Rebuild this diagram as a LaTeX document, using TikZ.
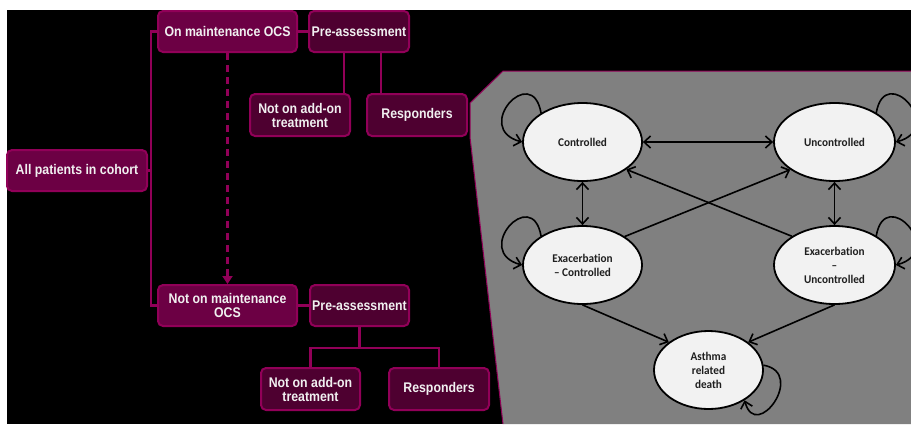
\documentclass[tikz,border=0pt]{standalone}
\usepackage{fontspec}
\newfontfamily\boxfont[FakeStretch=0.88]{Liberation Sans}
\newfontfamily\ellfont[FakeStretch=0.95,Ligatures=NoCommon]{Carlito}
\usetikzlibrary{arrows.meta,shapes.geometric}
\definecolor{boxA}{RGB}{108,0,68}
\definecolor{boxB}{RGB}{78,0,48}
\definecolor{boxline}{RGB}{145,0,88}
\definecolor{panel}{RGB}{128,128,128}
\definecolor{ellfill}{RGB}{242,242,242}
\begin{document}
\begin{tikzpicture}[x=1pt,y=1pt,
  pbox/.style={draw=boxline, line width=2pt, rounded corners=5pt, fill=boxA,
    text=white!94!black, font=\boxfont\bfseries\fontsize{14}{14}\selectfont,
    align=center, inner sep=0pt},
  dbox/.style={pbox, fill=boxB},
  link/.style={draw=boxline, line width=2.2pt},
  state/.style={ellipse, draw=black, line width=1.8pt, fill=ellfill,
    text=black!88, font=\ellfont\bfseries\fontsize{11.8}{14}\selectfont,
    align=center, inner sep=0pt},
  arr/.style={line width=1.6pt, -{Straight Barb[length=6.5pt,width=12pt]}},
  darr/.style={line width=1.6pt, {Straight Barb[length=6.5pt,width=12pt]}-{Straight Barb[length=6.5pt,width=12pt]}}
]
\useasboundingbox (0,0) rectangle (911,-424);
\clip (0,0) rectangle (911,-424);
\fill[white] (0,0) rectangle (911,-424);
\fill[black] (7,-10) rectangle (911,-424);

% grey panel
\fill[panel] (911,-71) -- (503,-71) -- (470,-103) -- (470,-137) -- (503,-424) -- (911,-424) -- cycle;
\draw[boxline, line width=1pt] (911,-71) -- (503,-71) -- (470,-103) -- (470,-137) -- (503,-424);

% left flowchart
\node[pbox, minimum width=140, minimum height=41] (allp) at (77,-170.5) {All patients in cohort};
\node[pbox, minimum width=139, minimum height=41] (onm) at (227.5,-31.5) {On maintenance OCS};
\node[dbox, minimum width=100, minimum height=41] (pre1) at (359,-31.5) {Pre-assessment};
\node[dbox, minimum width=100, minimum height=42] (nota1) at (300,-115) {Not on add-on\\treatment};
\node[dbox, minimum width=100, minimum height=42] (resp1) at (417,-115) {Responders};
\node[pbox, minimum width=139, minimum height=41] (notm) at (227.5,-305.5) {Not on maintenance\\OCS};
\node[dbox, minimum width=99, minimum height=41] (pre2) at (359.5,-305.5) {Pre-assessment};
\node[dbox, minimum width=99, minimum height=42] (nota2) at (310.5,-389) {Not on add-on\\treatment};
\node[dbox, minimum width=100, minimum height=42] (resp2) at (439,-389) {Responders};

\draw[link] (onm.west) -- ++(-6,0) coordinate (b1) |- (notm.west);
\draw[link] (allp.east) -- (allp.east -| b1);
\draw[link] (onm.east) -- (pre1.west);
\draw[link] ([xshift=-15pt]pre1.south) -- ([xshift=-15pt]pre1.south |- nota1.north);
\draw[link] ([xshift=22pt]pre1.south) -- ([xshift=22pt]pre1.south |- resp1.north);
\draw[link, line width=2.8pt, dash pattern=on 7pt off 5pt, -{Triangle[length=8pt,width=10pt]}] (onm.south) -- (notm.north);
\draw[link] (notm.east) -- (pre2.west);
\draw[link] (pre2.south) -- ++(0,-21) coordinate (t2);
\draw[link] (nota2.north) |- (t2) -| (resp2.north);

% state diagram
\node[state, minimum width=119, minimum height=78] (ctrl) at (582.5,-142) {Controlled};
\node[state, minimum width=121, minimum height=78] (unc) at (834.5,-142) {Uncontrolled};
\node[state, minimum width=119, minimum height=78] (exc) at (582.5,-265) {Exacerbation\\– Controlled};
\node[state, minimum width=121, minimum height=78] (exu) at (834.5,-265) {Exacerbation\\–\\Uncontrolled};
\node[state, minimum width=109, minimum height=78] (death) at (708.5,-370) {Asthma\\related\\death};

\draw[darr] (ctrl.east) -- (unc.west);
\draw[darr] (ctrl.south) -- (exc.north);
\draw[darr] (unc.south) -- (exu.north);
\draw[arr] (exc.34) -- (unc.212);
\draw[arr] (exu.146) -- (ctrl.328);
\draw[arr] (exc.south) -- (death.145);
\draw[arr] (exu.south) -- (death.35);

\draw[arr] (ctrl.145) to[out=100,in=165,distance=52pt] (ctrl.west);
\draw[arr] (exc.145) to[out=100,in=165,distance=52pt] (exc.west);
\draw[arr] (unc.35) to[out=80,in=15,distance=52pt] (unc.east);
\draw[arr] (exu.35) to[out=80,in=15,distance=52pt] (exu.east);
\draw[arr] (death.5) to[out=-10,in=-75,distance=44pt] (death.-40);
\end{tikzpicture}
\end{document}
